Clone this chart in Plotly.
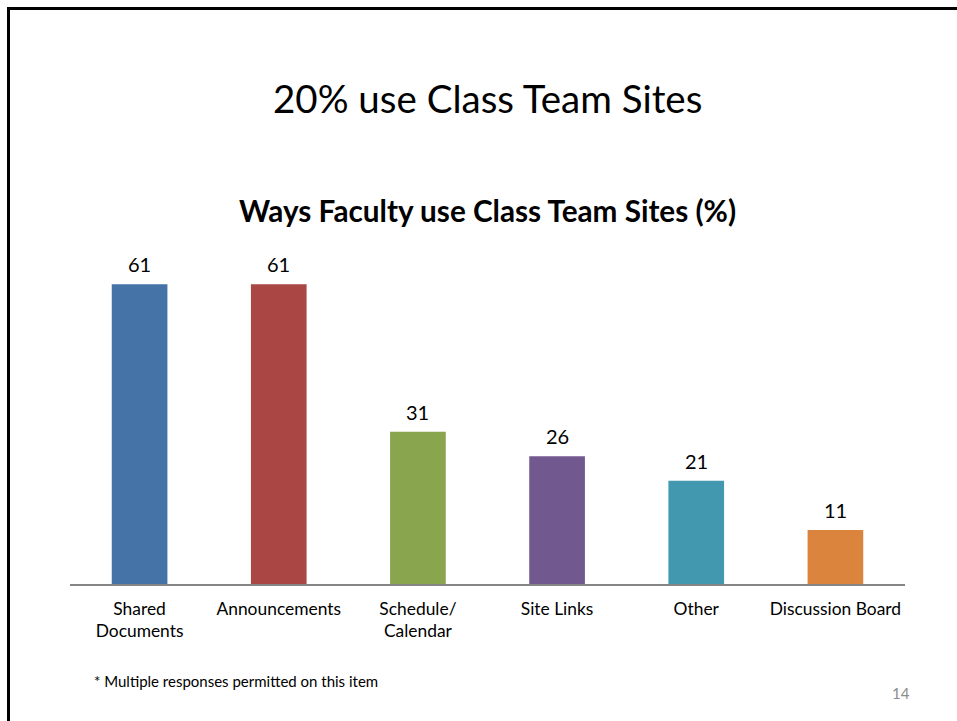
import plotly.graph_objects as go

categories = ["Shared<br>Documents", "Announcements", "Schedule/<br>Calendar", "Site Links", "Other", "Discussion Board"]
values = [61, 61, 31, 26, 21, 11]
colors = ["#4572A7", "#AA4643", "#89A54E", "#71588F", "#4198AF", "#DB843D"]

W, H = 957, 721
L, R, T, B = 70, 905, 240, 584  # plot area in pixels
FONT = "Lato, Carlito, Calibri, sans-serif"

def px(x):
    return (x - L) / (R - L)

def py(y):
    return (B - y) / (B - T)

fig = go.Figure(go.Bar(
    x=categories, y=values,
    marker=dict(color=colors, line=dict(width=0)),
    width=0.4,
    hoverinfo="x+y",
))

value_labels = [dict(x=c, y=v, xref="x", yref="y", text=str(v), showarrow=False,
                     yanchor="bottom", xanchor="center", yshift=6,
                     font=dict(size=20, family=FONT, color="#000000"))
                for c, v in zip(categories, values)]

fig.update_layout(
    width=W, height=H,
    margin=dict(l=L, r=W - R, t=T, b=H - B),
    paper_bgcolor="white", plot_bgcolor="white",
    showlegend=False,
    font=dict(family=FONT, color="#000000"),
    xaxis=dict(showline=True, linecolor="#868686", linewidth=1.5, ticks="",
               ticklabelstandoff=8,
               tickfont=dict(size=17.4, color="#000000", family=FONT), showgrid=False),
    yaxis=dict(range=[0, 70], visible=False, showgrid=False),
    shapes=[dict(type="rect", xref="paper", yref="paper",
                 x0=px(8.5), x1=px(1000), y0=py(8.5), y1=py(760),
                 line=dict(color="#000000", width=3), fillcolor="rgba(0,0,0,0)", layer="above")],
    annotations=value_labels + [
        dict(text="20% use Class Team Sites", x=px(487), y=py(98), xref="paper", yref="paper",
             showarrow=False, font=dict(size=38.5, family=FONT, color="#000000"), xanchor="center", yanchor="middle"),
        dict(text="<b>Ways Faculty use Class Team Sites (%)</b>", x=px(487), y=py(210), xref="paper", yref="paper",
             showarrow=False, font=dict(size=29.7, family=FONT, color="#000000"), xanchor="center", yanchor="middle"),
        dict(text="* Multiple responses permitted on this item", x=px(92), y=py(681), xref="paper", yref="paper",
             showarrow=False, font=dict(size=15, family=FONT, color="#000000"), xanchor="left", yanchor="middle"),
        dict(text="14", x=px(901), y=py(693), xref="paper", yref="paper",
             showarrow=False, font=dict(size=15, family=FONT, color="#8C8C8C"), xanchor="center", yanchor="middle"),
    ],
)

fig.write_html("out.html", config={"displayModeBar": False},
               post_script="document.body.style.margin='0';document.body.style.overflow='hidden';")
